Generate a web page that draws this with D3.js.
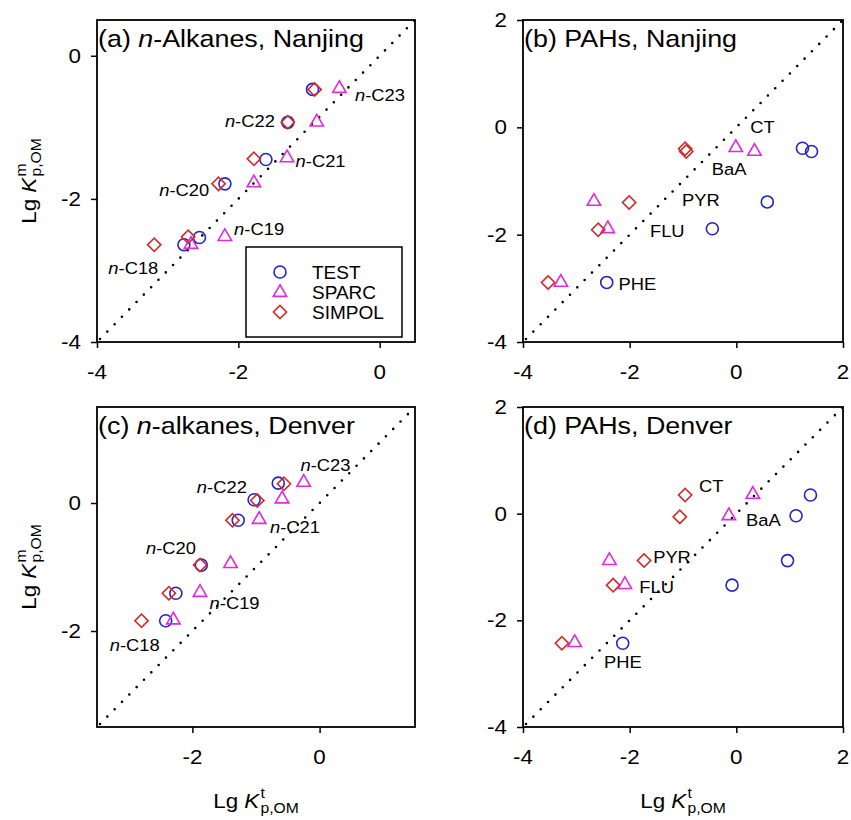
<!DOCTYPE html>
<html>
<head>
<meta charset="utf-8">
<script src="https://cdn.jsdelivr.net/npm/d3@7"></script>
<style>
  body { margin: 0; background: #fff; }
  text { font-family: 'Liberation Sans', Arial, sans-serif; fill: #000; }
</style>
</head>
<body>
<div id="chart"></div>
<script>
// compounds
const alkanes = ['C18', 'C19', 'C20', 'C21', 'C22', 'C23']
const pahs = ['PHE', 'FLU', 'PYR', 'BaA', 'CT']
const methods = ['TEST', 'SPARC', 'SIMPOL']

// (a) n-alkanes, Nanjing : x = Lg Kt, y = Lg Km
const njAlkTestX = [-2.77, -2.55, -2.19, -1.61, -1.30, -0.95]
const njAlkTestY = [-2.64, -2.54, -1.79, -1.45, -0.93, -0.47]
const njAlkSparcX = [-2.67, -2.19, -1.78, -1.31, -0.89, -0.57]
const njAlkSparcY = [-2.63, -2.52, -1.77, -1.42, -0.92, -0.45]
const njAlkSimpolX = [-3.19, -2.71, -2.28, -1.78, -1.30, -0.92]
const njAlkSimpolY = [-2.64, -2.53, -1.79, -1.44, -0.93, -0.47]
const njAlkLabelX = [-3.84, -2.06, -3.12, -1.19, -2.19, -0.35]
const njAlkLabelY = [-2.96, -2.42, -1.87, -1.47, -0.91, -0.55]

// (b) PAHs, Nanjing
const njPahTestX = [-2.43, -0.45, 0.58, 1.24, 1.41]
const njPahTestY = [-2.89, -1.89, -1.39, -0.39, -0.45]
const njPahSparcX = [-3.29, -2.41, -2.67, -0.01, 0.34]
const njPahSparcY = [-2.88, -1.88, -1.37, -0.37, -0.44]
const njPahSimpolX = [-3.53, -2.59, -2.01, -0.96, -0.94]
const njPahSimpolY = [-2.89, -1.91, -1.40, -0.40, -0.45]
const njPahLabelX = [-2.21, -1.62, -1.02, -0.46, 0.26]
const njPahLabelY = [-2.91, -1.94, -1.35, -0.78, 0.01]

// (c) n-alkanes, Denver
const dnAlkTestX = [-2.42, -2.26, -1.86, -1.28, -1.03, -0.65]
const dnAlkTestY = [-1.84, -1.41, -0.97, -0.27, 0.05, 0.31]
const dnAlkSparcX = [-2.30, -1.88, -1.40, -0.95, -0.59, -0.25]
const dnAlkSparcY = [-1.82, -1.39, -0.94, -0.25, 0.07, 0.33]
const dnAlkSimpolX = [-2.80, -2.37, -1.88, -1.37, -0.98, -0.56]
const dnAlkSimpolY = [-1.84, -1.41, -0.97, -0.27, 0.04, 0.30]
const dnAlkLabelX = [-3.30, -1.73, -2.73, -0.78, -1.93, -0.30]
const dnAlkLabelY = [-2.22, -1.56, -0.71, -0.38, 0.25, 0.59]

// (d) PAHs, Denver
const dnPahTestX = [-2.13, -0.08, 0.96, 1.12, 1.39]
const dnPahTestY = [-2.43, -1.34, -0.88, -0.04, 0.35]
const dnPahSparcX = [-3.03, -2.09, -2.38, -0.14, 0.31]
const dnPahSparcY = [-2.41, -1.32, -0.87, -0.03, 0.37]
const dnPahSimpolX = [-3.27, -2.31, -1.73, -1.06, -0.96]
const dnPahSimpolY = [-2.43, -1.34, -0.88, -0.06, 0.35]
const dnPahLabelX = [-2.48, -1.82, -1.56, 0.18, -0.70]
const dnPahLabelY = [-2.79, -1.37, -0.81, -0.12, 0.51]

const W = 851, H = 820
const colors = { TEST: '#2323cc', SPARC: '#dd2bdd', SIMPOL: '#d42a2a' }
const FONT_SX = 1.12

const panels = [
  { title: ['(a) ', 'n', '-Alkanes, Nanjing'], left: 97, top: 20, size: [318, 322],
    domain: [-4, 0.5], ticks: [-4, -2, 0], names: alkanes, italicN: true,
    x: [njAlkTestX, njAlkSparcX, njAlkSimpolX], y: [njAlkTestY, njAlkSparcY, njAlkSimpolY],
    lx: njAlkLabelX, ly: njAlkLabelY, legend: true, yTitle: true },
  { title: ['(b) PAHs, Nanjing'], left: 523, top: 20, size: [320, 322],
    domain: [-4, 2], ticks: [-4, -2, 0, 2], names: pahs,
    x: [njPahTestX, njPahSparcX, njPahSimpolX], y: [njPahTestY, njPahSparcY, njPahSimpolY],
    lx: njPahLabelX, ly: njPahLabelY },
  { title: ['(c) ', 'n', '-alkanes, Denver'], left: 97, top: 407, size: [318, 320],
    domain: [-3.5, 1.5], ticks: [-2, 0], names: alkanes, italicN: true,
    x: [dnAlkTestX, dnAlkSparcX, dnAlkSimpolX], y: [dnAlkTestY, dnAlkSparcY, dnAlkSimpolY],
    lx: dnAlkLabelX, ly: dnAlkLabelY, yTitle: true, xTitle: true },
  { title: ['(d) PAHs, Denver'], left: 523, top: 407, size: [320, 320],
    domain: [-4, 2], ticks: [-4, -2, 0, 2], names: pahs,
    x: [dnPahTestX, dnPahSparcX, dnPahSimpolX], y: [dnPahTestY, dnPahSparcY, dnPahSimpolY],
    lx: dnPahLabelX, ly: dnPahLabelY, xTitle: true }
]

const svg = d3.select('#chart').append('svg')
  .attr('width', W)
  .attr('height', H)

function stretched(sel, x, y, sx) {
  return sel.attr('transform', `translate(${x},${y}) scale(${sx},1)`)
}

function marker(g, method, cx, cy) {
  if (method === 'TEST') {
    g.append('circle').attr('cx', cx).attr('cy', cy).attr('r', 6)
      .attr('fill', 'none').attr('stroke', colors.TEST).attr('stroke-width', 1.6)
  } else if (method === 'SPARC') {
    g.append('path').attr('d', d3.symbol(d3.symbolTriangle).size(78)())
      .attr('transform', `translate(${cx},${cy + 0.5})`)
      .attr('fill', 'none').attr('stroke', colors.SPARC).attr('stroke-width', 1.6)
  } else {
    g.append('path').attr('d', d3.symbol(d3.symbolSquare).size(88)())
      .attr('transform', `translate(${cx},${cy}) rotate(45)`)
      .attr('fill', 'none').attr('stroke', colors.SIMPOL).attr('stroke-width', 1.6)
  }
}

// "Lg K^sup_p,OM" axis title, centred on 0 in its own group
function kTitle(g, sup) {
  const inner = g.append('g')
  const t = inner.append('text').attr('font-size', 20)
  t.append('tspan').text('Lg ')
  t.append('tspan').attr('font-style', 'italic').text('K')
  const w = t.node().getComputedTextLength() + 1
  const s1 = inner.append('text').attr('font-size', 14).attr('x', w).attr('y', -10).text(sup)
  const s2 = inner.append('text').attr('font-size', 14).attr('x', w).attr('y', 5).text('p,OM')
  const total = w + Math.max(s1.node().getComputedTextLength(), s2.node().getComputedTextLength())
  inner.attr('transform', `scale(${FONT_SX},1) translate(${-total / 2},0)`)
}

panels.forEach(p => {
  const [pw, ph] = p.size
  const x = d3.scaleLinear().domain(p.domain).range([p.left, p.left + pw])
  const y = d3.scaleLinear().domain(p.domain).range([p.top + ph, p.top])
  const g = svg.append('g')

  // ticks (outward)
  g.append('g')
    .attr('transform', `translate(0,${p.top + ph})`)
    .call(d3.axisBottom(x).tickValues(p.ticks).tickSize(6).tickSizeOuter(0).tickFormat(''))
    .call(a => a.select('.domain').remove())
    .call(a => a.selectAll('line').attr('stroke-width', 1.5))
  g.append('g')
    .attr('transform', `translate(${p.left},0)`)
    .call(d3.axisLeft(y).tickValues(p.ticks).tickSize(6).tickSizeOuter(0).tickFormat(''))
    .call(a => a.select('.domain').remove())
    .call(a => a.selectAll('line').attr('stroke-width', 1.5))

  p.ticks.forEach(v => {
    stretched(g.append('text'), x(v), p.top + ph + 37, FONT_SX)
      .attr('font-size', 20).attr('text-anchor', 'middle').text(v)
    stretched(g.append('text'), p.left - 16, y(v) + 7, FONT_SX)
      .attr('font-size', 20).attr('text-anchor', 'end').text(v)
  })

  // 1:1 line
  g.append('line')
    .attr('x1', x(p.domain[0]) + 3).attr('y1', y(p.domain[0]) - 3)
    .attr('x2', x(p.domain[1])).attr('y2', y(p.domain[1]))
    .attr('stroke', '#000').attr('stroke-width', 2.6)
    .attr('stroke-linecap', 'round').attr('stroke-dasharray', '0,10.4')

  // frame
  g.append('rect')
    .attr('x', p.left).attr('y', p.top).attr('width', pw).attr('height', ph)
    .attr('fill', 'none').attr('stroke', '#000').attr('stroke-width', 1.8)

  // points
  methods.forEach((m, mi) => {
    p.names.forEach((n, i) => marker(g, m, x(p.x[mi][i]), y(p.y[mi][i])))
  })

  // point labels
  p.names.forEach((n, i) => {
    const t = stretched(g.append('text'), x(p.lx[i]), y(p.ly[i]) + 6, 1.08).attr('font-size', 17)
    if (p.italicN) {
      t.append('tspan').attr('font-style', 'italic').text('n')
      t.append('tspan').text('-' + n)
    } else {
      t.text(n)
    }
  })

  // panel title
  const tt = stretched(g.append('text'), p.left + 1, p.top + 27, FONT_SX).attr('font-size', 24)
  p.title.forEach((s, i) => {
    tt.append('tspan').attr('font-style', i === 1 ? 'italic' : null).text(s)
  })

  if (p.legend) {
    const lg = g.append('g').attr('transform', `translate(${p.left + 149},${p.top + 227})`)
    lg.append('rect').attr('width', 156).attr('height', 90)
      .attr('fill', '#fff').attr('stroke', '#000').attr('stroke-width', 1.5)
    methods.forEach((m, i) => {
      marker(lg, m, 34, 25 + i * 20)
      lg.append('text').attr('x', 66).attr('y', 25 + i * 20 + 7)
        .attr('font-size', 19).text(m)
    })
  }

  if (p.yTitle) {
    kTitle(svg.append('g').attr('transform', `translate(36,${p.top + ph / 2}) rotate(-90)`), 'm')
  }
  if (p.xTitle) {
    kTitle(svg.append('g').attr('transform', `translate(${p.left + pw / 2},808)`), 't')
  }
})
</script>
</body>
</html>
